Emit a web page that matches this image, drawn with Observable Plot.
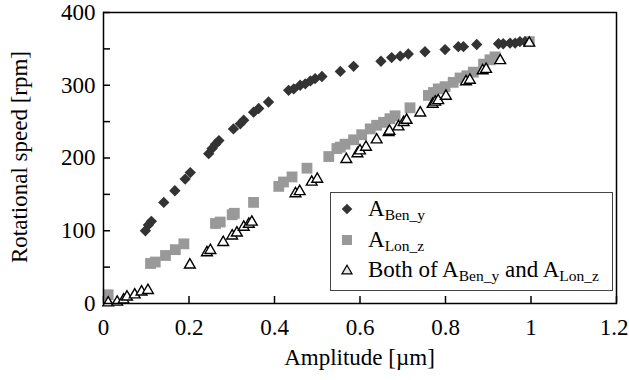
<!DOCTYPE html>
<html><head><meta charset="utf-8">
<script src="https://cdn.jsdelivr.net/npm/d3@7"></script>
<script src="https://cdn.jsdelivr.net/npm/@observablehq/plot@0.6"></script>
<style>
body{margin:0;background:#fff}
#wrap{position:relative;width:629px;height:380px;font-family:'Liberation Serif';color:#000}
#chart svg text{font-family:'Liberation Serif'}
.t{position:absolute;font-family:'Liberation Serif';font-size:23px;line-height:23px;white-space:nowrap;color:#000}
#xt{left:103px;width:513px;top:346px;text-align:center}
#yt{left:19px;top:157px;transform:translate(-50%,-50%) rotate(-90deg)}
#legend{position:absolute;left:330px;top:192px;width:281px;height:97px;border:1px solid #444;background:#fff}
#legend svg{position:absolute;left:0;top:0}
.row{position:absolute;left:37px}
.sub{font-size:15.5px;vertical-align:-4px}
</style>
</head><body>
<div id="wrap">
  <div id="chart"></div>
  <div class="t" id="xt"></div>
  <div class="t" id="yt"></div>
  <div id="legend"></div>
</div>
<script>
// A_Ben_y (diamonds)
const benAmp = [0.098,0.105,0.112,0.141,0.167,0.191,0.203,0.246,0.254,0.262,0.27,0.304,0.32,0.328,0.351,0.363,0.386,0.433,0.445,0.46,0.472,0.484,0.495,0.511,0.554,0.585,0.649,0.674,0.694,0.713,0.752,0.799,0.83,0.842,0.873,0.924,0.935,0.951,0.963,0.974,0.986];
const benSpeed = [100,108,113,139,155,171,180,206,213,219,224,240,247,252,263,268,277,293,295,300,302,306,309,312,319,326,333,338,340,343,346,349,353,353,356,357,357,358,358,360,360];
// A_Lon_z (squares)
const lonAmp = [0.011,0.11,0.121,0.145,0.168,0.188,0.262,0.273,0.301,0.306,0.351,0.41,0.421,0.441,0.476,0.527,0.546,0.554,0.565,0.585,0.604,0.624,0.639,0.655,0.67,0.682,0.717,0.76,0.772,0.783,0.799,0.818,0.834,0.85,0.865,0.889,0.904,0.916,0.996];
const lonSpeed = [12,55,57,66,74,82,110,112,122,124,139,161,167,174,186,202,213,215,219,225,232,240,245,249,254,258,269,286,290,295,298,304,310,313,318,329,335,339,360];
// Both (triangles)
const bothAmp = [0.011,0.032,0.047,0.055,0.073,0.089,0.104,0.202,0.242,0.25,0.28,0.301,0.312,0.328,0.34,0.347,0.449,0.459,0.487,0.5,0.568,0.594,0.6,0.614,0.639,0.667,0.669,0.69,0.702,0.709,0.741,0.77,0.776,0.783,0.801,0.848,0.857,0.887,0.895,0.928,0.996];
const bothSpeed = [1,2,5,9,12,16,18,53,70,73,84,93,97,105,109,112,151,154,167,171,198,206,210,215,225,235,237,243,249,252,262,274,277,279,285,305,307,320,322,334,358];

const xTicks = [0,0.2,0.4,0.6,0.8,1,1.2];
const yTicks = [0,100,200,300,400];
const yMinorTicks = [0,50,100,150,200,250,300,350,400];

const xLabel = "Amplitude [\u00b5m]";
const yLabel = "Rotational speed [rpm]";
// legend entries: [main, subscript] pairs
const legendBen = [["A", "Ben_y"]];
const legendLon = [["A", "Lon_z"]];
const legendBoth = [["Both of A", "Ben_y"], [" and A", "Lon_z"]];

const ben = benAmp.map((x,i)=>({x, y: benSpeed[i]}));
const lon = lonAmp.map((x,i)=>({x, y: lonSpeed[i]}));
const both = bothAmp.map((x,i)=>({x, y: bothSpeed[i]}));

const W = 629, H = 380, mL = 103, mR = 13, mT = 12, mB = 77;
const pw = W - mL - mR, ph = H - mT - mB;

const chart = Plot.plot({
  width: W, height: H, marginLeft: mL, marginRight: mR, marginTop: mT, marginBottom: mB,
  style: {fontFamily: "Liberation Serif", fontSize: "23px"},
  x: {domain: [0, 1.2]},
  y: {domain: [0, 400]},
  marks: [
    Plot.tickX(xTicks, {x: d => d, insetTop: ph - 7, stroke: "#000", strokeWidth: 1.5}),
    Plot.tickY(yMinorTicks, {y: d => d, insetRight: pw - 7, stroke: "#000", strokeWidth: 1.5}),
    Plot.axisX(xTicks.slice(0, -1), {tickSize: 0, tickPadding: 15, label: null, fontSize: 23, tickFormat: d => String(+d.toFixed(1))}),
    Plot.axisX(xTicks.slice(-1), {tickSize: 0, tickPadding: 15, label: null, fontSize: 23, textAnchor: "end", dx: 12, tickFormat: d => String(+d.toFixed(1))}),
    Plot.axisY(yTicks, {tickSize: 0, tickPadding: 8, label: null, fontSize: 23}),
    Plot.dot(lon, {x: "x", y: "y", symbol: "square", r: 6.1, fill: "#999", stroke: "none"}),
    Plot.dot(ben, {x: "x", y: "y", symbol: "diamond2", r: 5.1, fill: "#333", stroke: "none"}),
    Plot.dot(both, {x: "x", y: "y", symbol: "triangle", r: 4, fill: "#fff", stroke: "#000", strokeWidth: 1.4}),
    Plot.frame({stroke: "#000", strokeWidth: 1.5})
  ]
});
document.getElementById("chart").append(chart);

document.getElementById("xt").textContent = xLabel;
document.getElementById("yt").textContent = yLabel;

// legend
const legend = d3.select("#legend");
const ls = legend.append("svg").attr("width", 281).attr("height", 97);
ls.append("path").attr("transform", "translate(16,16)").attr("d", d3.symbol(d3.symbolDiamond2, 72)()).attr("fill", "#333");
ls.append("path").attr("transform", "translate(16,47)").attr("d", d3.symbol(d3.symbolSquare, 100)()).attr("fill", "#999");
ls.append("path").attr("transform", "translate(16,78)").attr("d", d3.symbol(d3.symbolTriangle, 44)()).attr("fill", "#e6e6e6").attr("stroke", "#000").attr("stroke-width", 1.2);

function legendRow(top, parts) {
  const row = legend.append("div").attr("class", "t row").style("top", top + "px");
  parts.forEach(([main, sub]) => {
    row.append("span").text(main);
    row.append("span").attr("class", "sub").text(sub);
  });
}
legendRow(4, legendBen);
legendRow(35, legendLon);
legendRow(65, legendBoth);
</script>
</body></html>
